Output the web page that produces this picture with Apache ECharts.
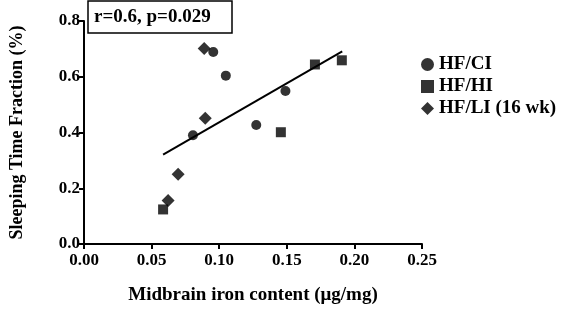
<!DOCTYPE html>
<html><head><meta charset="utf-8">
<script src="https://cdn.jsdelivr.net/npm/echarts@6/dist/echarts.min.js"></script>
<style>html,body{margin:0;padding:0;background:#fff}#c{width:561px;height:310px}</style>
</head><body><div id="c"></div>
<script>
const xTicks = [0, 0.05, 0.10, 0.15, 0.20, 0.25];
const yTicks = [0, 0.2, 0.4, 0.6, 0.8];
const ciX = [0.0956, 0.1049, 0.0806, 0.1274, 0.1490];
const ciY = [0.689, 0.604, 0.390, 0.427, 0.549];
const hiX = [0.0585, 0.1456, 0.1708, 0.1907];
const hiY = [0.124, 0.401, 0.644, 0.659];
const liX = [0.0889, 0.0897, 0.0696, 0.0622];
const liY = [0.701, 0.451, 0.250, 0.156];
const fitX = [0.0585, 0.191];
const fitY = [0.321, 0.691];
const statText = 'r=0.6, p=0.029';
const names = ['HF/CI', 'HF/HI', 'HF/LI (16 wk)'];

const F = 'Liberation Serif';
const zip = (a, b) => a.map((v, i) => [v, b[i]]);
const chart = echarts.init(document.getElementById('c'));
chart.setOption({
  animation: false,
  backgroundColor: '#fff',
  textStyle: {fontFamily: F},
  grid: {left: 82, right: 139, top: 21, bottom: 65},
  title: {
    text: statText, left: 88, top: 1,
    padding: [7, 22, 6, 6],
    borderWidth: 1.5, borderColor: '#000',
    textStyle: {fontFamily: F, fontWeight: 'bold', fontSize: 19, color: '#000'}
  },
  legend: {
    orient: 'vertical', left: 416, top: 50, itemGap: 3,
    itemWidth: 13, itemHeight: 13,
    data: names,
    textStyle: {fontFamily: F, fontWeight: 'bold', fontSize: 19, color: '#000'}
  },
  xAxis: {
    type: 'value', min: xTicks[0], max: xTicks[xTicks.length - 1], interval: 0.05,
    name: 'Midbrain iron content (μg/mg)', nameLocation: 'middle', nameGap: 42,
    nameTextStyle: {fontFamily: F, fontWeight: 'bold', fontSize: 19, color: '#000'},
    axisLine: {lineStyle: {color: '#000', width: 2}},
    axisTick: {lineStyle: {color: '#000', width: 2}, length: 5},
    splitLine: {show: false},
    axisLabel: {formatter: v => v.toFixed(2), fontFamily: F, fontWeight: 'bold', fontSize: 17, color: '#000', margin: 8}
  },
  yAxis: {
    type: 'value', min: yTicks[0], max: yTicks[yTicks.length - 1], interval: 0.2,
    name: 'Sleeping Time Fraction (%)', nameLocation: 'middle', nameGap: 58,
    nameTextStyle: {fontFamily: F, fontWeight: 'bold', fontSize: 18, color: '#000'},
    axisLine: {show: true, lineStyle: {color: '#000', width: 2}},
    axisTick: {show: true, lineStyle: {color: '#000', width: 2}, length: 5},
    splitLine: {show: false},
    axisLabel: {formatter: v => v.toFixed(1), fontFamily: F, fontWeight: 'bold', fontSize: 17, color: '#000', margin: 4}
  },
  series: [
    {name: names[0], type: 'scatter', symbol: 'circle', symbolSize: 10, itemStyle: {color: '#000'}, data: zip(ciX, ciY)},
    {name: names[1], type: 'scatter', symbol: 'rect', symbolSize: 10, itemStyle: {color: '#000'}, data: zip(hiX, hiY)},
    {name: names[2], type: 'scatter', symbol: 'diamond', symbolSize: 13, itemStyle: {color: '#000'}, data: zip(liX, liY)},
    {name: 'fit', type: 'line', symbol: 'none', lineStyle: {color: '#000', width: 2}, data: zip(fitX, fitY), z: 1}
  ]
});
</script></body></html>
